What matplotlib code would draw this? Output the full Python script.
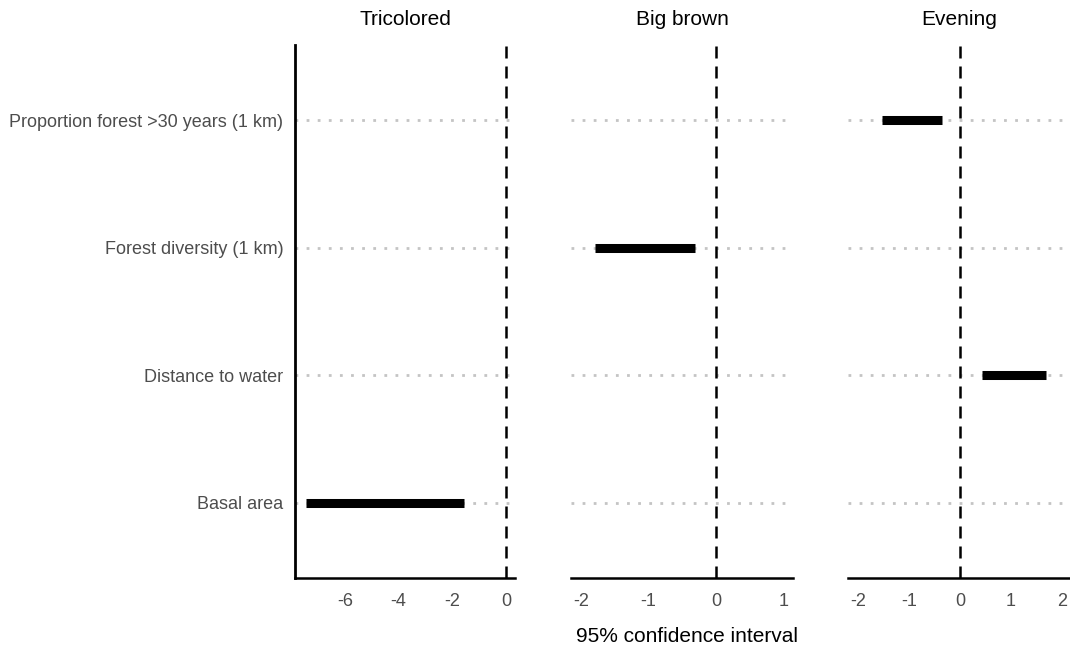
import matplotlib.pyplot as plt

plt.rcParams['font.family'] = ['Liberation Sans', 'DejaVu Sans']
plt.rcParams['axes.unicode_minus'] = False

# data: 95% confidence intervals per species (None = no effect drawn)
predictors = ["Basal area", "Distance to water", "Forest diversity (1 km)",
              "Proportion forest >30 years (1 km)"]
species = ["Tricolored", "Big brown", "Evening"]
ci_low = {
    "Tricolored": [-7.43, None, None, None],
    "Big brown": [None, None, -1.80, None],
    "Evening": [None, 0.43, None, -1.53],
}
ci_high = {
    "Tricolored": [-1.56, None, None, None],
    "Big brown": [None, None, -0.31, None],
    "Evening": [None, 1.69, None, -0.35],
}
xlims = {"Tricolored": (-7.85, 0.33), "Big brown": (-2.15, 1.14), "Evening": (-2.2, 2.16)}
xticks = {"Tricolored": [-6, -4, -2, 0], "Big brown": [-2, -1, 0, 1], "Evening": [-2, -1, 0, 1, 2]}

fig = plt.figure(figsize=(10.7, 6.46), dpi=100)
lefts = [295, 571, 848]
widths = [220, 222, 222]

for k, sp in enumerate(species):
    ax = fig.add_axes([lefts[k] / 1070, 68 / 646, widths[k] / 1070, 533 / 646])
    ypos = list(range(1, len(predictors) + 1))
    for y in ypos:
        ax.axhline(y, color="#c4c4c4", linestyle=(0, (1, 3)), linewidth=2, zorder=1)
    ax.axvline(0, color="black", linestyle=(0, (4.8, 3.2)), linewidth=1.8, zorder=2)
    for y, lo, hi in zip(ypos, ci_low[sp], ci_high[sp]):
        if lo is not None:
            ax.plot([lo, hi], [y, y], color="black", linewidth=6.5, solid_capstyle="butt", zorder=3)
    ax.set_xlim(*xlims[sp])
    ax.set_ylim(0.41, 4.59)
    ax.set_xticks(xticks[sp])
    ax.tick_params(axis="x", length=0, pad=11, labelsize=13, labelcolor="#4d4d4d")
    ax.set_yticks(ypos)
    if k == 0:
        ax.set_yticklabels(predictors)
        ax.tick_params(axis="y", length=0, pad=8.5, labelsize=13, labelcolor="#4d4d4d")
        ax.spines["left"].set_linewidth(2)
    else:
        ax.set_yticklabels([])
        ax.tick_params(axis="y", length=0)
        ax.spines["left"].set_visible(False)
    ax.spines["top"].set_visible(False)
    ax.spines["right"].set_visible(False)
    ax.spines["bottom"].set_linewidth(1.8)
    ax.set_title(sp, fontsize=15, pad=14.5)

fig.text(687 / 1070, 1 - 636 / 646, "95% confidence interval", ha="center", va="center", fontsize=15)

fig.savefig("out.png", dpi=100)
